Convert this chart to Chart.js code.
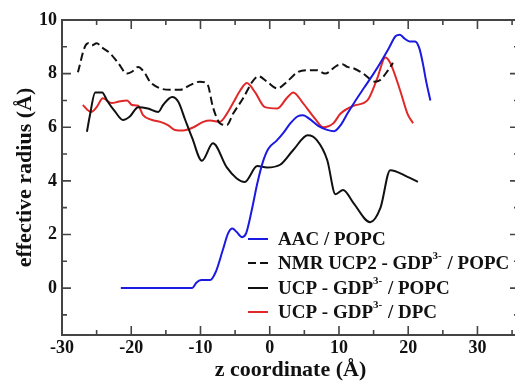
<!DOCTYPE html>
<html>
<head>
<meta charset="utf-8">
<script src="https://cdn.jsdelivr.net/npm/chart.js@4"></script>
<style>
html,body{margin:0;padding:0;background:#fff;}
#wrap{width:515px;height:381px;overflow:hidden;position:relative;}
canvas{display:block;}
</style>
</head>
<body>
<div id="wrap"><canvas id="c" width="530" height="385"></canvas></div>
<script>
// ---- data ----
const aacZ = [-21.5,-11.2,-10.6,-9.9,-8.6,-7.8,-6.8,-6.0,-5.4,-4.8,-4.0,-3.4,-2.6,-1.8,-1.0,-0.2,1.0,2.0,3.0,4.0,4.8,5.8,7.0,8.3,9.3,10.3,11.2,12.4,13.7,15.0,16.2,17.2,18.2,18.8,19.5,20.2,21.0,21.6,22.1,22.6,23.2];
const aacR = [0,0,0.2,0.3,0.3,0.6,1.4,2.05,2.22,2.1,1.9,2.05,2.9,3.9,4.7,5.2,5.5,5.8,6.15,6.4,6.45,6.3,6.05,5.9,5.85,6.1,6.5,7.0,7.5,8.0,8.5,8.95,9.4,9.45,9.3,9.2,9.2,8.95,8.4,7.7,7.0];

const nmrZ = [-27.7,-26.7,-26.2,-25.7,-25,-24.1,-23.1,-21.9,-20.6,-19.9,-19,-18,-17.3,-15.8,-14.4,-12.9,-11.5,-10.1,-9,-8.2,-7.2,-6.2,-5.3,-3.8,-2.5,-1.6,-0.4,1.1,2.5,4.0,5.4,6.8,8,9.7,10.5,11.2,12.1,13.5,15.2,15.9,17.1,17.8];
const nmrR = [8.05,9.0,9.13,9.05,9.13,8.95,8.77,8.4,8.0,8.07,8.25,8.0,7.7,7.45,7.4,7.4,7.57,7.7,7.6,6.75,6.15,6.08,6.5,7.1,7.7,7.9,7.7,7.45,7.7,8.05,8.13,8.13,8.0,8.3,8.35,8.25,8.2,8.0,7.7,7.75,8.13,8.4];

const popcZ = [-26.4,-26,-25.2,-24.2,-23.5,-22.3,-21.2,-20.2,-19,-17.6,-16.1,-15.4,-14.1,-13.2,-12.2,-11.2,-9.8,-8.2,-6.2,-4.8,-3.6,-1.8,-0.4,1.5,3.4,5.5,6.8,8.3,9.5,10.6,12.1,14.5,16,17.4,19.9,21.4];
const popcR = [5.83,6.4,7.3,7.3,7.0,6.57,6.27,6.4,6.75,6.7,6.57,6.83,7.13,6.95,6.27,5.6,4.75,5.4,4.5,4.1,3.96,4.55,4.5,4.6,5.15,5.7,5.52,4.78,3.5,3.66,3.17,2.46,3.0,4.4,4.15,3.96];

const dpcZ = [-27,-25.8,-25,-24.1,-22.8,-21.9,-20.6,-19.9,-19,-18.3,-17,-15.8,-14.7,-13.7,-12.5,-11,-9.6,-8.6,-7.2,-6.2,-5.3,-4.2,-3.3,-2.1,-0.7,1.1,2.5,3.4,4.8,6.6,7.7,9.2,10.2,12.1,14.1,15.5,16.7,17.4,18.8,19.9,20.7];
const dpcR = [6.83,6.57,6.75,7.08,6.9,6.95,7.0,6.83,6.8,6.45,6.27,6.2,6.08,5.9,5.88,6.0,6.2,6.25,6.2,6.5,6.9,7.4,7.65,7.3,6.75,6.7,7.1,7.3,6.9,6.3,6.0,6.15,6.5,6.8,7.0,7.8,8.6,8.4,7.4,6.5,6.15];

const xTicks = [-30,-20,-10,0,10,20,30];
const xMinor = [-25,-15,-5,5,15,25,35];
const yTicks = [0,2,4,6,8,10];
const yMinor = [-1,1,3,5,7,9];

const seriesNames = ['AAC / POPC','NMR UCP2 - GDP','UCP - GDP','UCP - GDP'];
const seriesTails = ['',' / POPC',' / POPC',' / DPC'];
const seriesSup = ['','3-','3-','3-'];
const seriesColors = ['#1a1ae0','#111111','#111111','#e02828'];
const seriesDash = [[],[8,4],[],[]];

const pts = (zs, rs) => zs.map((z,i)=>({x:z,y:rs[i]}));
const allData = [pts(aacZ,aacR), pts(nmrZ,nmrR), pts(popcZ,popcR), pts(dpcZ,dpcR)];

const serif = "'Liberation Serif', 'DejaVu Serif', serif";

const frameTicks = {
  id:'frameTicks',
  afterDatasetsDraw(chart){
    const {ctx, chartArea:a, scales:{x,y}} = chart;
    ctx.save();
    ctx.strokeStyle = '#444';
    ctx.lineWidth = 2;
    ctx.strokeRect(a.left, a.top, a.right-a.left, a.bottom-a.top);
    ctx.lineWidth = 1.6;
    const tx = (v,len)=>{
      const p = x.getPixelForValue(v);
      if (p < a.left || p > a.right) return;
      ctx.beginPath();
      ctx.moveTo(p,a.bottom); ctx.lineTo(p,a.bottom-len);
      ctx.moveTo(p,a.top); ctx.lineTo(p,a.top+len);
      ctx.stroke();
    };
    const ty = (v,len)=>{
      const p = y.getPixelForValue(v);
      if (p < a.top || p > a.bottom) return;
      ctx.beginPath();
      ctx.moveTo(a.left,p); ctx.lineTo(a.left+len,p);
      ctx.moveTo(a.right,p); ctx.lineTo(a.right-len,p);
      ctx.stroke();
    };
    xTicks.forEach(v=>tx(v,9));
    xMinor.forEach(v=>tx(v,5));
    yTicks.forEach(v=>ty(v,9));
    yMinor.forEach(v=>ty(v,5));
    ctx.restore();
  },
  afterDraw(chart){
    const ctx = chart.ctx;
    ctx.save();
    const rowsY = [239, 263, 288, 312];
    const x0 = 248, x1 = 268, tx = 278;
    for (let i=0;i<4;i++){
      const yy = rowsY[i];
      ctx.strokeStyle = seriesColors[i];
      ctx.lineWidth = 2;
      ctx.setLineDash(seriesDash[i]);
      ctx.beginPath(); ctx.moveTo(x0,yy); ctx.lineTo(x1,yy); ctx.stroke();
      ctx.setLineDash([]);
      ctx.fillStyle = '#111';
      ctx.textBaseline = 'middle';
      ctx.textAlign = 'left';
      ctx.font = 'bold 19px ' + serif;
      let cx = tx;
      ctx.fillText(seriesNames[i], cx, yy+1);
      cx += ctx.measureText(seriesNames[i]).width;
      if (seriesSup[i]) {
        ctx.font = 'bold 11px ' + serif;
        ctx.fillText(seriesSup[i], cx, yy-7);
        cx += ctx.measureText(seriesSup[i]).width + 1;
        ctx.font = 'bold 19px ' + serif;
        ctx.fillText(seriesTails[i], cx, yy+1);
      }
    }
    ctx.restore();
  }
};

const datasets = allData.map((d,i)=>({
  label: seriesNames[i] + seriesSup[i] + seriesTails[i],
  data: d,
  showLine: true,
  borderColor: seriesColors[i],
  borderWidth: 2,
  borderDash: seriesDash[i],
  pointRadius: 0,
  cubicInterpolationMode: 'monotone',
  fill: false
}));

new Chart(document.getElementById('c'), {
  type: 'scatter',
  data: { datasets },
  options: {
    responsive: false,
    animation: false,
    devicePixelRatio: 1,
    layout: { padding: { top: 20, right: 11, left: 0, bottom: 0 } },
    plugins: { legend: { display: false }, tooltip: { enabled: false } },
    scales: {
      x: {
        type: 'linear', min: -30, max: 36,
        afterBuildTicks: s => { s.ticks = xTicks.map(v=>({value:v})); },
        afterFit: s => { s.height = 50; },
        grid: { display: false, drawTicks: false },
        border: { display: false },
        ticks: { autoSkip: false, maxRotation: 0, padding: 3, color: '#111',
                 font: { family: serif, size: 18, weight: 'bold' } },
        title: { display: true, text: 'z coordinate (Å)', color: '#111',
                 padding: { top: 0, bottom: 1 },
                 font: { family: serif, size: 22, weight: 'bold' } }
      },
      y: {
        type: 'linear', min: -1.75, max: 10,
        afterBuildTicks: s => { s.ticks = yTicks.map(v=>({value:v})); },
        afterFit: s => { s.width = 62; },
        grid: { display: false, drawTicks: false },
        border: { display: false },
        ticks: { autoSkip: false, padding: 5, color: '#111',
                 font: { family: serif, size: 18, weight: 'bold' } },
        title: { display: true, text: 'effective radius (Å)', color: '#111',
                 padding: { top: 12, bottom: 0 },
                 font: { family: serif, size: 22, weight: 'bold' } }
      }
    }
  },
  plugins: [frameTicks]
});
</script>
</body>
</html>
